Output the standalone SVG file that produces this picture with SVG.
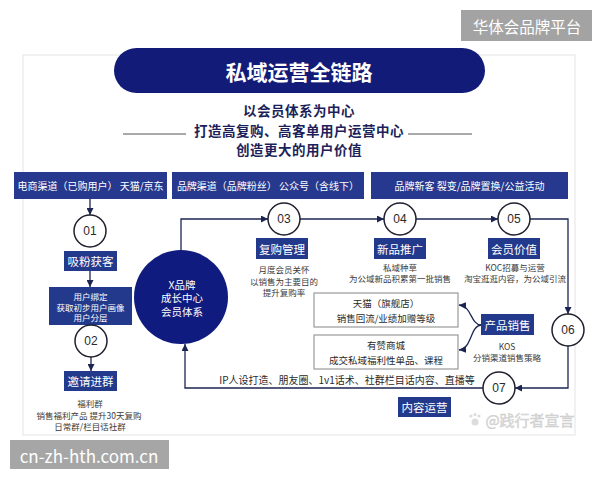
<svg xmlns="http://www.w3.org/2000/svg" width="600" height="480" viewBox="0 0 600 480">
<defs>
<marker id="arr" viewBox="0 0 10 10" refX="10" refY="5" markerWidth="7" markerHeight="7" markerUnits="userSpaceOnUse" orient="auto"><path d="M0,0 L10,5 L0,10 z" fill="#1c2552"/></marker>
<style>
text{font-family:"Noto Sans CJK SC","Noto Sans",sans-serif;text-anchor:middle;dominant-baseline:central}
.hdr{fill:#26398e}
.hdrt{fill:#fff;font-size:10px}
.lab{fill:#233a8c}
.labt{fill:#fff;font-size:11.5px}
.num{fill:#fff;stroke:#1f1f2e;stroke-width:1.5}
.numt{fill:#2a2a2a;font-size:12px;font-family:"Liberation Sans","Noto Sans",sans-serif}
.sm{fill:#3a3a3a;font-size:8.5px}
.sub{fill:#1c1f5a;font-size:13.5px;font-weight:bold;letter-spacing:0.5px}
.con{fill:none;stroke:#1c2552;stroke-width:1.3}
.pbox{fill:#fff;stroke:#9a9a9a;stroke-width:1.2}
.pt{fill:#2a2a2a;font-size:9.5px}
</style>
</defs>
<rect x="0" y="0" width="600" height="480" fill="#fff"/>
<g id="watermark-top"><rect x="461" y="10" width="131" height="31" fill="#a3a3a3"/><text x="527" y="25.5" fill="#fff" font-size="15.5px">华体会品牌平台</text></g>
<rect id="card" x="23" y="55" width="552" height="380" fill="#fff" stroke="#e8e8e8" stroke-width="1.2"/>
<g id="title"><rect x="114" y="48" width="371" height="45" rx="22.5" fill="#121c78"/><text x="299" y="71" fill="#fff" font-size="21px" font-weight="bold">私域运营全链路</text></g>
<g id="subtitle">
<text class="sub" x="299" y="110">以会员体系为中心</text>
<text class="sub" x="299" y="129.5">打造高复购、高客单用户运营中心</text>
<text class="sub" x="299" y="149">创造更大的用户价值</text>
<line x1="123" y1="134" x2="186" y2="134" stroke="#555" stroke-width="1"/>
<line x1="408" y1="134" x2="472" y2="134" stroke="#555" stroke-width="1"/>
</g>
<g id="connectors">
<line class="con" x1="90" y1="199" x2="90" y2="215" marker-end="url(#arr)"/>
<line class="con" x1="90" y1="271" x2="90" y2="287" marker-end="url(#arr)"/>
<line class="con" x1="91" y1="357" x2="91" y2="371" marker-end="url(#arr)"/>
<polyline class="con" points="181,250 181,219 268,219" marker-end="url(#arr)"/>
<line class="con" x1="300" y1="219" x2="384" y2="219" marker-end="url(#arr)"/>
<line class="con" x1="416" y1="219" x2="498" y2="219" marker-end="url(#arr)"/>
<polyline class="con" points="530,219 568,219 568,314" marker-end="url(#arr)"/>
<polyline class="con" points="568,346 568,388 515,388" marker-end="url(#arr)"/>
<polyline class="con" points="483,388 185,388 185,344" marker-end="url(#arr)"/>
<path class="con" d="M481,325 C470,324 472,306 459,305" marker-end="url(#arr)"/>
<path class="con" d="M481,325 C470,326 472,349 459,350" marker-end="url(#arr)"/>
</g>
<g id="h1"><rect class="hdr" x="14" y="172" width="153" height="27"/><text class="hdrt" x="90.5" y="185.5">电商渠道（已购用户） 天猫/京东</text></g>
<g id="h2"><rect class="hdr" x="172" y="172" width="192" height="27"/><text class="hdrt" x="268" y="185.5">品牌渠道（品牌粉丝） 公众号（含线下）</text></g>
<g id="h3"><rect class="hdr" x="371" y="172" width="197" height="27"/><text class="hdrt" x="469.5" y="185.5">品牌新客 裂变/品牌置换/公益活动</text></g>
<g id="n01"><circle class="num" cx="90" cy="231" r="16"/><text class="numt" x="90" y="231">01</text></g>
<g id="l-xifen"><rect class="lab" x="64" y="251" width="53" height="20"/><text class="labt" x="90.5" y="261">吸粉获客</text></g>
<g id="bind"><rect class="lab" x="49" y="287" width="83" height="38"/>
<text x="90.5" y="296" fill="#fff" font-size="8.5px">用户绑定</text>
<text x="90.5" y="306.5" fill="#fff" font-size="8.5px">获取初步用户画像</text>
<text x="90.5" y="317" fill="#fff" font-size="8.5px">用户分层</text></g>
<g id="n02"><circle class="num" cx="91" cy="341" r="16"/><text class="numt" x="91" y="341">02</text></g>
<g id="l-yaoqing"><rect class="lab" x="64" y="371" width="53" height="20"/><text class="labt" x="90.5" y="381">邀请进群</text>
<text class="sm" x="90" y="403">福利群</text>
<text class="sm" x="89" y="415">销售福利产品  提升30天复购</text>
<text class="sm" x="90" y="426">日常群/栏目话社群</text></g>
<g id="center"><circle cx="181" cy="297" r="47" fill="#101b7f"/>
<text x="182" y="284" fill="#fff" font-size="10.5px">X品牌</text>
<text x="182" y="297.5" fill="#fff" font-size="10.5px">成长中心</text>
<text x="182" y="311" fill="#fff" font-size="10.5px">会员体系</text></g>
<g id="n03"><circle class="num" cx="284" cy="219" r="16"/><text class="numt" x="284" y="219">03</text>
<rect class="lab" x="256" y="238" width="52" height="21"/><text class="labt" x="282" y="248.5">复购管理</text>
<text class="sm" x="284" y="269">月度会员关怀</text>
<text class="sm" x="284" y="280.5">以销售为主要目的</text>
<text class="sm" x="284" y="292">提升复购率</text></g>
<g id="n04"><circle class="num" cx="400" cy="219" r="16"/><text class="numt" x="400" y="219">04</text>
<rect class="lab" x="374" y="238" width="52" height="21"/><text class="labt" x="400" y="248.5">新品推广</text>
<text class="sm" x="400" y="267">私域种草</text>
<text class="sm" x="400" y="278">为公域新品积累第一批销售</text></g>
<g id="n05"><circle class="num" cx="514" cy="219" r="16"/><text class="numt" x="514" y="219">05</text>
<rect class="lab" x="488" y="238" width="52" height="21"/><text class="labt" x="514" y="248.5">会员价值</text>
<text class="sm" x="515" y="267">KOC招募与运营</text>
<text class="sm" x="515" y="278">淘宝逛逛内容，为公域引流</text></g>
<g id="n06"><circle class="num" cx="568" cy="330" r="16"/><text class="numt" x="568" y="330">06</text></g>
<g id="sales"><rect class="lab" x="481" y="314" width="53" height="21"/><text class="labt" x="507.5" y="324.5">产品销售</text>
<text class="sm" x="507" y="346">KOS</text>
<text class="sm" x="507" y="357">分销渠道销售策略</text></g>
<g id="tmall"><rect class="pbox" x="314" y="293" width="144" height="34"/>
<text class="pt" x="386" y="303">天猫（旗舰店）</text>
<text class="pt" x="386" y="317.5">销售回流/业绩加赠等级</text></g>
<g id="youzan"><rect class="pbox" x="314" y="335" width="144" height="34"/>
<text class="pt" x="386" y="345">有赞商城</text>
<text class="pt" x="386" y="359.5">成交私域福利性单品、课程</text></g>
<g id="n07"><circle class="num" cx="499" cy="388" r="16"/><text class="numt" x="499" y="388">07</text>
<text x="347" y="379" fill="#2a2a2a" font-size="10px">IP人设打造、朋友圈、1v1话术、社群栏目话内容、直播等</text>
<rect class="lab" x="398" y="397" width="53" height="20"/><text class="labt" x="424.5" y="407">内容运营</text></g>
<g id="watermark-wb" fill="#dcdcdc">
<circle cx="475" cy="422" r="3.5"/><circle cx="471" cy="416" r="1.6"/><circle cx="475" cy="414.5" r="1.6"/><circle cx="479" cy="416" r="1.6"/>
<text x="530" y="419" font-size="15px" fill="#dcdcdc" stroke="#cacaca" stroke-width="0.4">@践行者宣言</text></g>
<g id="watermark-bottom"><rect x="10" y="440" width="159" height="29" fill="#a6a6a6"/><text x="89" y="455" fill="#fff" font-size="17px" font-family="Liberation Sans,sans-serif">cn-zh-hth.com.cn</text></g>
</svg>
